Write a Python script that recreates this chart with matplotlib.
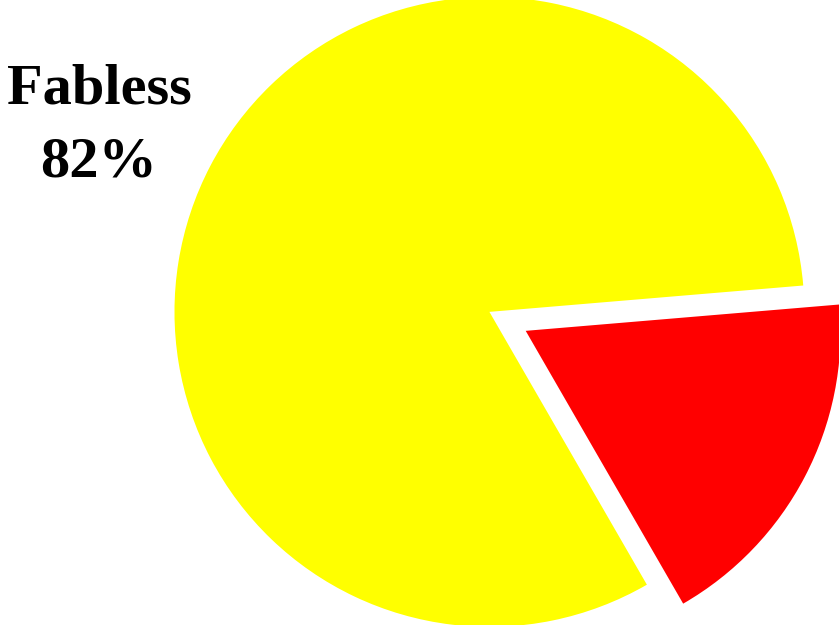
import matplotlib
matplotlib.use('Agg')
import matplotlib.pyplot as plt

# shares of the pie
categories = ['Fabless', 'Other']
shares = [82, 18]
colors = ['#ffff00', '#ff0000']
explode = [0, 0.13]

fig = plt.figure(figsize=(8.39, 6.25), dpi=100)
ax = fig.add_axes([0, 0, 1, 1])

# red slice drawn first, counter-clockwise from -60 deg
ax.pie(shares[::-1], colors=colors[::-1], explode=explode[::-1],
       startangle=-60, counterclock=True, radius=1.0,
       wedgeprops=dict(linewidth=0))

ax.text(-1.24, 0.59, '%s\n%d%%' % (categories[0], shares[0]),
        ha='center', va='center', fontsize=42, fontweight='bold',
        family='Liberation Serif', linespacing=1.54)

ax.set_aspect('auto')
ax.set_xlim(-1.554, 1.110)
ax.set_ylim(-0.994, 0.990)
ax.axis('off')

fig.savefig('out.png', dpi=100)
